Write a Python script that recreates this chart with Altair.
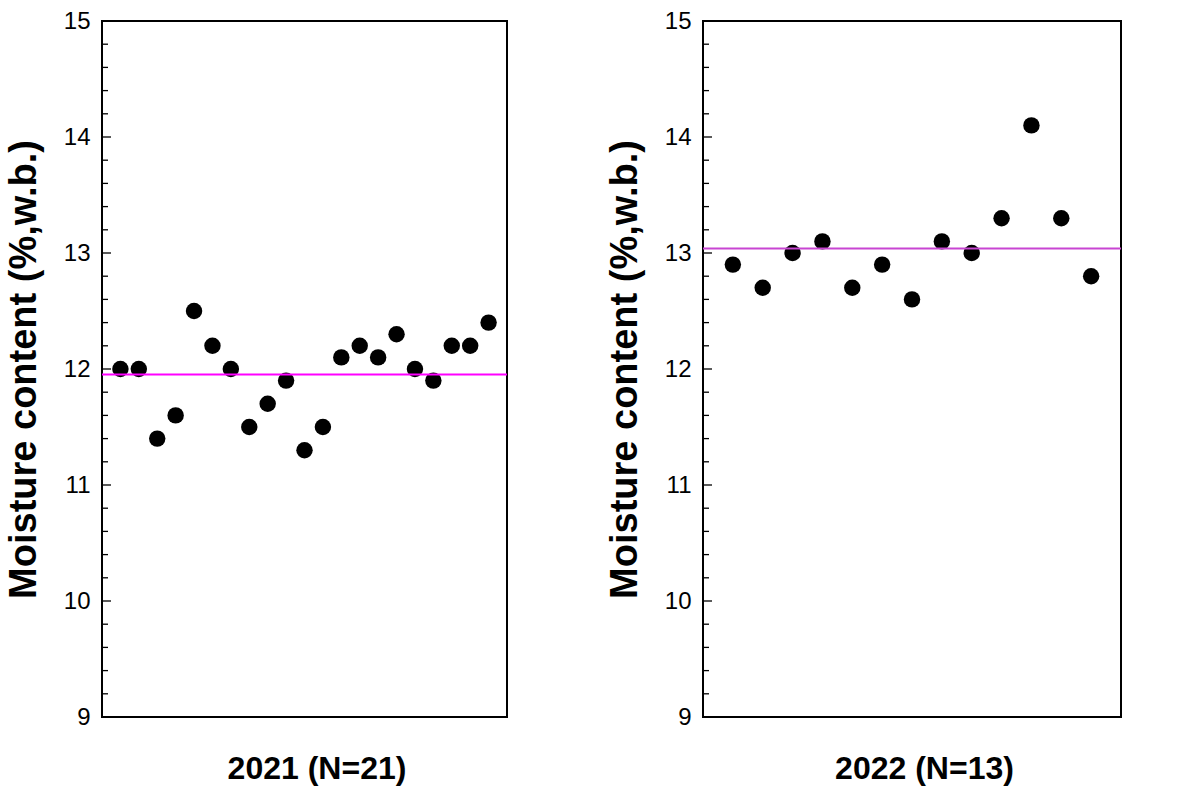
import altair as alt
import pandas as pd

# Data
mc_2021 = [12.0, 12.0, 11.4, 11.6, 12.5, 12.2, 12.0, 11.5, 11.7, 11.9, 11.3,
           11.5, 12.1, 12.2, 12.1, 12.3, 12.0, 11.9, 12.2, 12.2, 12.4]
mc_2022 = [12.9, 12.7, 13.0, 13.1, 12.7, 12.9, 12.6, 13.1, 13.0, 13.3, 14.1,
           13.3, 12.8]
titles = ["2021 (N=21)", "2022 (N=13)"]
line_colors = ["#ff00ff", "#c845d2"]
major_ticks = [9, 10, 11, 12, 13, 14, 15]
minor_ticks = [round(9 + 0.2 * i, 1) for i in range(31) if i % 5 != 0]

FONT = "Liberation Sans"
Y_TITLE = "Moisture content (%,w.b.)"


def panel(values, title, color, width):
    n = len(values)
    df = pd.DataFrame({"idx": list(range(1, n + 1)), "mc": values})
    yscale = alt.Scale(domain=[9, 15], nice=False, zero=False)
    xscale = alt.Scale(domain=[0, n + 1], nice=False, zero=False)
    yaxis = alt.Axis(title=Y_TITLE, values=major_ticks, format="d",
                     ticks=False, domain=False, grid=False,
                     labelFontSize=24, labelFont=FONT, labelColor="black",
                     labelPadding=12, titleFontSize=38, titleFont=FONT,
                     titleFontWeight="bold", titleColor="black",
                     titlePadding=20)
    xaxis = alt.Axis(title=title, labels=False, ticks=False, domain=False,
                     grid=False, titleFontSize=32, titleFont=FONT,
                     titleFontWeight="bold", titleColor="black",
                     titlePadding=36, titleX=width / 2 + 12)

    pts = alt.Chart(df).mark_circle(size=270, color="black", opacity=1).encode(
        x=alt.X("idx:Q", scale=xscale, axis=xaxis),
        y=alt.Y("mc:Q", scale=yscale, axis=yaxis),
    )
    mean_line = alt.Chart(df).mark_rule(color=color, strokeWidth=2).encode(
        y=alt.Y("mean(mc):Q", scale=yscale, axis=yaxis),
        x=alt.value(0), x2=alt.value(width),
    )
    minor = alt.Chart(pd.DataFrame({"t": minor_ticks})).mark_rule(
        color="black", strokeWidth=1.3).encode(
        y=alt.Y("t:Q", scale=yscale, axis=yaxis), x=alt.value(0), x2=alt.value(6))
    major = alt.Chart(pd.DataFrame({"t": major_ticks[1:-1]})).mark_rule(
        color="black", strokeWidth=1.3).encode(
        y=alt.Y("t:Q", scale=yscale, axis=yaxis), x=alt.value(0), x2=alt.value(9))
    return alt.layer(pts, mean_line, minor, major).properties(width=width, height=696)


left = panel(mc_2021, titles[0], line_colors[0], 405)
right = panel(mc_2022, titles[1], line_colors[1], 418)

chart = alt.hconcat(left, right, spacing=96).properties(
    padding={"left": 4, "top": 8, "right": 5, "bottom": 5}
).configure(background="white").configure_view(stroke="black", strokeWidth=2)

chart.save("out.html", embed_options={"renderer": "svg", "actions": False})
